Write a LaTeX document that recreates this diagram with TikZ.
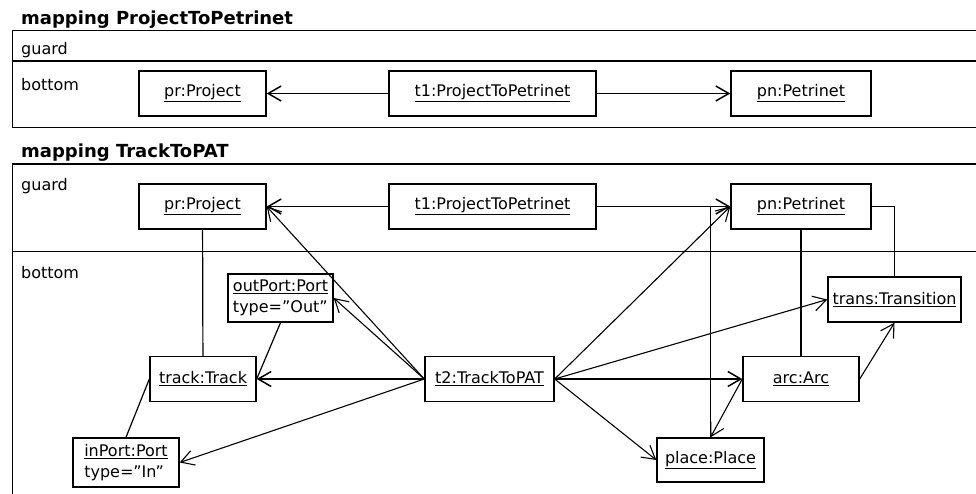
\documentclass[tikz,border=0pt]{standalone}
\usepackage{fontspec}
\setmainfont{DejaVu Sans}
\usetikzlibrary{arrows.meta}

\begin{document}
\begin{tikzpicture}[x=1pt, y=-1pt, >={Straight Barb[length=13pt,width=15pt]},
  obj/.style={draw, rectangle, line width=1.4pt, inner sep=4pt, minimum height=45pt,
    font=\fontsize{16}{21}\selectfont},
  lbl/.style={anchor=base west, inner sep=0pt, font=\fontsize{16}{18}\selectfont},
  link/.style={line width=1.2pt},
  nav/.style={->, line width=1.5pt},
  thinnav/.style={->, line width=1.1pt}]
  \useasboundingbox (0,0) rectangle (976,494);
  \clip (0,0) rectangle (976,494);

  % mapping ProjectToPetrinet
  \node[lbl, font=\fontsize{18}{20}\bfseries\selectfont] (title1) at (21,25) {mapping ProjectToPetrinet};
  \draw[line width=1pt] (12,31) rectangle (990,128);
  \draw[line width=1.7pt] (12,61) -- (990,61);
  \node[lbl] (guard1) at (21,55) {guard};
  \node[lbl] (bottom1) at (21,91) {bottom};

  \node[obj, minimum width=127pt] (pr1) at (202.5,93.5) {\underline{pr:Project}};
  \node[obj, minimum width=207pt] (t1a) at (492.5,93.5) {\underline{t1:ProjectToPetrinet}};
  \node[obj, minimum width=140pt] (pn1) at (801,93.5) {\underline{pn:Petrinet}};

  \draw[nav] (t1a) -- (pr1);
  \draw[nav] (t1a) -- (pn1);

  % mapping TrackToPAT
  \node[lbl, font=\fontsize{18}{20}\bfseries\selectfont] (title2) at (21,158) {mapping TrackToPAT};
  \draw[line width=1pt] (12,164) rectangle (990,510);
  \draw[line width=1.5pt] (12,164) -- (990,164);
  \draw[line width=1pt] (12,251) -- (990,251);
  \node[lbl] (guard2) at (21,191) {guard};
  \node[lbl] (bottom2) at (21,278) {bottom};

  % guard objects
  \node[obj, minimum width=127pt] (pr2) at (202.5,206.5) {\underline{pr:Project}};
  \node[obj, minimum width=207pt] (t1b) at (492.5,206.5) {\underline{t1:ProjectToPetrinet}};
  \node[obj, minimum width=140pt] (pn2) at (801,206.5) {\underline{pn:Petrinet}};

  % bottom objects
  \node[obj, minimum width=105pt, minimum height=48pt, inner sep=3pt, align=left] (outport) at (280.5,298)
    {\underline{outPort:Port}\\type=”Out”};
  \node[obj, minimum width=106pt] (track) at (203,379) {\underline{track:Track}};
  \node[obj, minimum width=106pt, minimum height=49pt, align=left] (inport) at (126,462.5)
    {\underline{inPort:Port}\\type=”In”};
  \node[obj, minimum width=129pt] (t2) at (489.5,379) {\underline{t2:TrackToPAT}};
  \node[obj, minimum width=133pt] (trans) at (894.5,299.5) {\underline{trans:Transition}};
  \node[obj, minimum width=116pt] (arc) at (801,379) {\underline{arc:Arc}};
  \node[obj, minimum width=107pt, minimum height=44pt] (place) at (710.5,460) {\underline{place:Place}};

  % links
  \draw[link] (pr2) -- (track);
  \draw[link] (outport.south) -- (track.east);
  \draw[link] (track.west) -- (inport.north);
  \draw[link] (pn2) -- (arc);
  \draw[link] (pn2.east) -| (trans.north);
  \draw[link] (place.north) |- (pn2.west);

  % navigation
  \draw[nav] (t1b) -- (pr2);
  \draw[nav] (t1b) -- (pn2);
  \draw[thinnav] (t2.west) -- (pr2.east);
  \draw[thinnav] (t2.west) -- (outport.east);
  \draw[nav] (t2.west) -- (track.east);
  \draw[thinnav] (t2.west) -- (inport.east);
  \draw[thinnav] (t2.east) -- (pn2.west);
  \draw[thinnav] (t2.east) -- (trans.west);
  \draw[nav] (t2.east) -- (arc.west);
  \draw[thinnav] (t2.east) -- (place.west);
  \draw[thinnav] (arc.west) -- (place.north);
  \draw[thinnav] (arc.east) -- (trans.south);
\end{tikzpicture}
\end{document}
